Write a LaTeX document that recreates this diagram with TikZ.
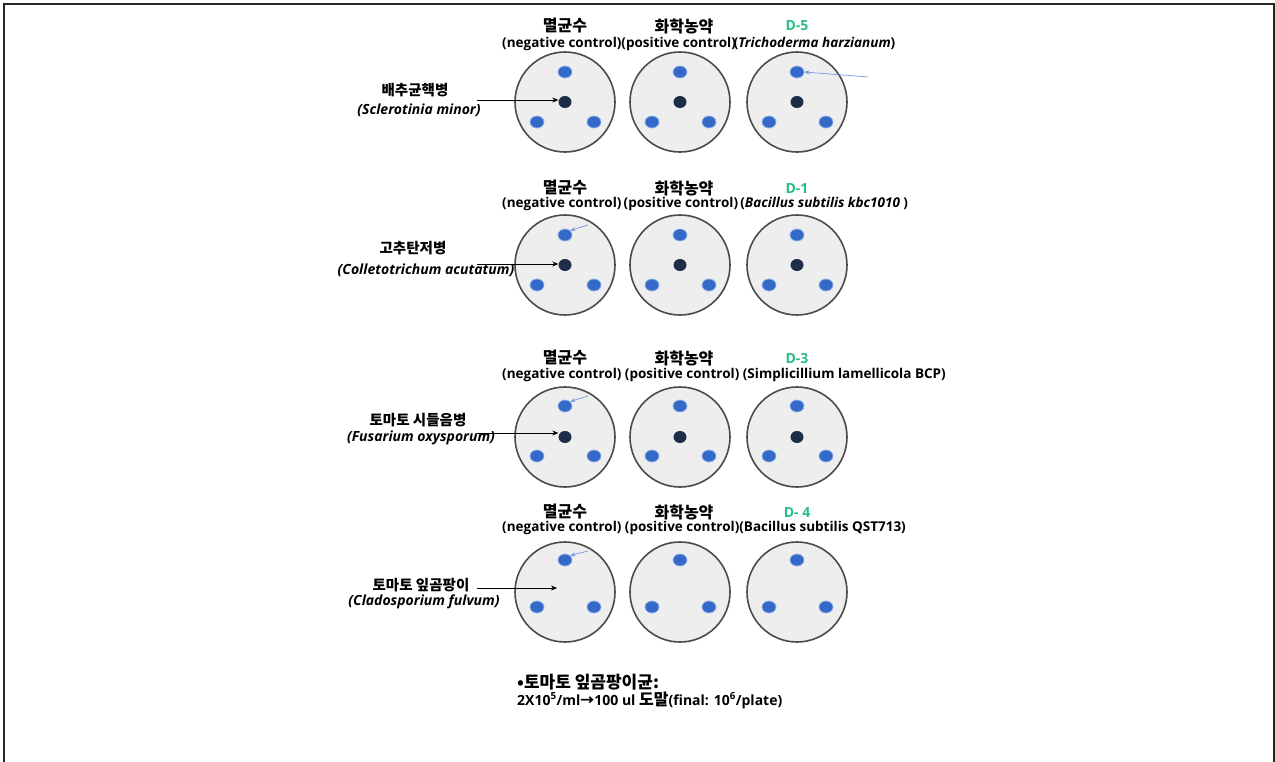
\documentclass[tikz,border=0pt]{standalone}
\usepackage{fontspec}
\setmainfont{Open Sans}
\newfontfamily\kr{Noto Sans CJK KR}
\usetikzlibrary{shapes.geometric,arrows.meta}
\definecolor{platefill}{RGB}{238,238,238}
\definecolor{plateline}{RGB}{75,75,75}
\definecolor{dotblue}{RGB}{52,105,200}
\definecolor{dotrim}{RGB}{140,175,235}
\definecolor{dotdark}{RGB}{30,45,72}
\definecolor{dgreen}{RGB}{40,190,130}
\definecolor{arrblue}{RGB}{120,150,225}
\tikzset{
  plate/.style={circle,draw=plateline,fill=platefill,line width=1.6pt,minimum size=100pt,inner sep=0pt},
  bdot/.style={ellipse,fill=dotblue,draw=dotrim,line width=0.8pt,minimum width=14pt,minimum height=12pt,inner sep=0pt},
  ddot/.style={ellipse,fill=dotdark,minimum width=13pt,minimum height=12pt,inner sep=0pt},
  head/.style={font=\kr\bfseries\fontsize{16}{18}\selectfont,inner sep=0pt},
  dlab/.style={font=\bfseries\fontsize{14}{16}\selectfont,text=dgreen,inner sep=0pt},
  sub/.style={font=\bfseries\fontsize{13.5}{15}\selectfont,inner sep=0pt,anchor=west},
  krlab/.style={font=\kr\bfseries\fontsize{14.5}{16}\selectfont,inner sep=0pt},
  latlab/.style={font=\bfseries\itshape\fontsize{14}{16}\selectfont,inner sep=0pt},
  pointer/.style={-{Stealth[length=6pt,width=5pt]},line width=0.7pt,black},
  bluepointer/.style={-{Stealth[length=5pt,width=4pt]},line width=0.7pt,arrblue},
}
\newcommand{\petri}[6]{% name, x, y, top offset, bottom offset, centre dot (1/0)
  \node[plate] (#1) at (#2,#3) {};
  \node[bdot] (#1t) at (#2,#3+#4) {};
  \node[bdot] (#1l) at (#2-28,#3+#5) {};
  \node[bdot] (#1r) at (#2+29,#3+#5) {};
  \ifnum#6=1 \node[ddot] (#1c) at (#2,#3) {};\fi}
\begin{document}
\begin{tikzpicture}[x=1pt,y=-1pt]
\useasboundingbox (0,0) rectangle (1275,761);
\draw[line width=2pt,black!85] (4,762) -- (4,4) -- (1274,4) -- (1274,762);

% ---------- row 1
\node[head] (h1a) at (565,26) {멸균수};
\node[head] (h1b) at (684,26) {화학농약};
\node[dlab] (h1c) at (797,26) {D-5};
\node[sub] (s1) at (502,44) {(negative control)(positive control)\kern-2pt(\textit{Trichoderma harzianum})};
\petri{p1a}{565}{102}{-30}{20}{1}
\petri{p1b}{680}{102}{-30}{20}{1}
\petri{p1c}{797}{102}{-30}{20}{1}
\node[krlab] (l1a) at (415,90) {배추균핵병};
\node[latlab] (l1b) at (419,110) {(\textit{Sclerotinia minor)}};
\coordinate (a1) at (477,100);
\draw[pointer] (a1) -- (p1ac.west |- a1);
\coordinate (b1) at (868,77);
\draw[bluepointer] (b1) -- (p1ct.east);

% ---------- row 2
\node[head] (h2a) at (565,188) {멸균수};
\node[head] (h2b) at (684,188) {화학농약};
\node[dlab] (h2c) at (797,188) {D-1};
\node[sub] (s2) at (502,204) {(negative control)\,(positive control)\,(\textit{Bacillus subtilis kbc1010} )};
\petri{p2a}{565}{265}{-30}{20}{1}
\petri{p2b}{680}{265}{-30}{20}{1}
\petri{p2c}{797}{265}{-30}{20}{1}
\node[krlab] (l2a) at (413,248) {고추탄저병};
\node[latlab] (l2b) at (426,270) {(\textit{Colletotrichum acutatum})};
\coordinate (a2) at (477,264);
\draw[pointer] (a2) -- (p2ac.west |- a2);
\coordinate (b2) at (588,225);
\draw[bluepointer] (b2) -- (p2at.north east);

% ---------- row 3
\node[head] (h3a) at (565,358) {멸균수};
\node[head] (h3b) at (684,358) {화학농약};
\node[dlab] (h3c) at (797,358) {D-3};
\node[sub] (s3) at (502,375) {(negative control) (positive control) (Simplicillium lamellicola BCP)};
\petri{p3a}{565}{437}{-31}{19}{1}
\petri{p3b}{680}{437}{-31}{19}{1}
\petri{p3c}{797}{437}{-31}{19}{1}
\node[krlab] (l3a) at (418,420) {토마토 시들음병};
\node[latlab] (l3b) at (421,438) {(\textit{Fusarium oxysporum})};
\coordinate (a3) at (477,433);
\draw[pointer] (a3) -- (p3ac.west |- a3);
\coordinate (b3) at (588,396);
\draw[bluepointer] (b3) -- (p3at.north east);

% ---------- row 4
\node[head] (h4a) at (565,512) {멸균수};
\node[head] (h4b) at (684,512) {화학농약};
\node[dlab] (h4c) at (797,512) {D- 4};
\node[sub] (s4) at (502,528) {(negative control) (positive control)(Bacillus subtilis QST713)};
\petri{p4a}{565}{592}{-32}{15}{0}
\petri{p4b}{680}{592}{-32}{15}{0}
\petri{p4c}{797}{592}{-32}{15}{0}
\node[krlab] (l4a) at (421,585) {토마토 잎곰팡이};
\node[latlab] (l4b) at (424,602) {(\textit{Cladosporium fulvum})};
\coordinate (a4) at (477,588);
\coordinate (e4) at (557,588);
\draw[pointer] (a4) -- (e4);
\coordinate (b4) at (588,551);
\draw[bluepointer] (b4) -- (p4at.north east);

% ---------- note
\node[sub,font=\kr\bfseries\fontsize{17}{19}\selectfont] (n1) at (517,682) {•토마토 잎곰팡이균:};
\node[sub,font=\bfseries\fontsize{14}{16}\selectfont] (n2) at (517,700) {2X10\textsuperscript{5}/ml{\kr →}100 ul {\kr\fontsize{16}{18}\selectfont 도말}(final: 10\textsuperscript{6}/plate)};
\end{tikzpicture}
\end{document}
